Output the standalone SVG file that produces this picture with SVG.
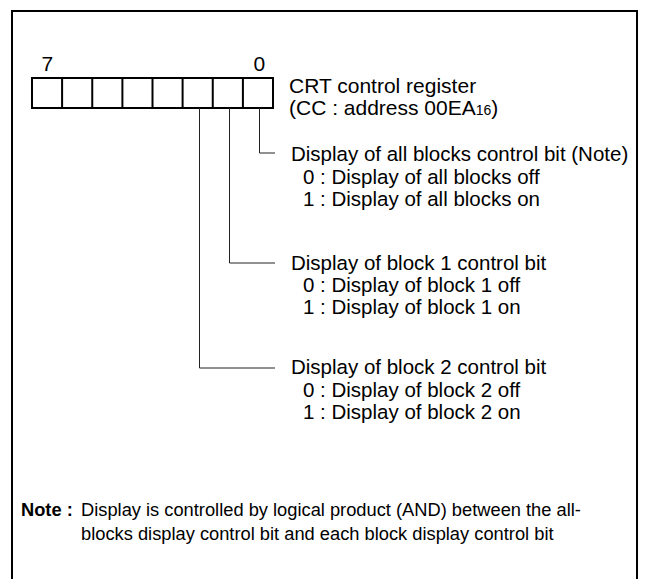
<svg xmlns="http://www.w3.org/2000/svg" width="648" height="579" viewBox="0 0 648 579">
<style>
text{font-family:"Liberation Sans",Arial,Helvetica,sans-serif;font-size:20.5px;fill:#000}
.reg{font-size:21px}
.n{font-size:18.3px}
.b{font-weight:bold}
.sub{font-size:14px}
.cell{fill:none;stroke:#000;stroke-width:2}
.con{fill:none;stroke:#222;stroke-width:1}
</style>
<rect x="0" y="0" width="648" height="579" fill="#fff"/>
<rect x="12" y="11" width="625" height="600" fill="none" stroke="#000" stroke-width="2"/>
<g id="register">
<text class="reg" x="41.5" y="71">7</text>
<text class="reg" x="253.5" y="71">0</text>
<rect class="cell" x="32" y="78" width="241" height="30"/>
<path class="cell" d="M62.1 78V108M92.25 78V108M122.4 78V108M152.5 78V108M182.6 78V108M212.75 78V108M242.9 78V108"/>
<text class="reg" x="289" y="93">CRT control register</text>
<text class="reg" x="289" y="115">(CC : address 00EA<tspan class="sub">16</tspan>)</text>
</g>
<g id="connectors">
<path class="con" d="M259.5 108V153H275"/>
<path class="con" d="M229.5 108V263H275"/>
<path class="con" d="M199.5 108V368H275"/>
</g>
<g id="bit0">
<text x="291" y="161">Display of all blocks control bit (Note)</text>
<text x="303" y="183.5">0 : Display of all blocks off</text>
<text x="303" y="205.5">1 : Display of all blocks on</text>
</g>
<g id="bit1">
<text x="291" y="270">Display of block 1 control bit</text>
<text x="303" y="292">0 : Display of block 1 off</text>
<text x="303" y="314">1 : Display of block 1 on</text>
</g>
<g id="bit2">
<text x="291" y="374">Display of block 2 control bit</text>
<text x="303" y="396.5">0 : Display of block 2 off</text>
<text x="303" y="418.5">1 : Display of block 2 on</text>
</g>
<g id="note">
<text class="n b" x="21" y="516">Note :</text>
<text class="n" x="81" y="516">Display is controlled by logical product (AND) between the all-</text>
<text class="n" x="81" y="540">blocks display control bit and each block display control bit</text>
</g>
</svg>
